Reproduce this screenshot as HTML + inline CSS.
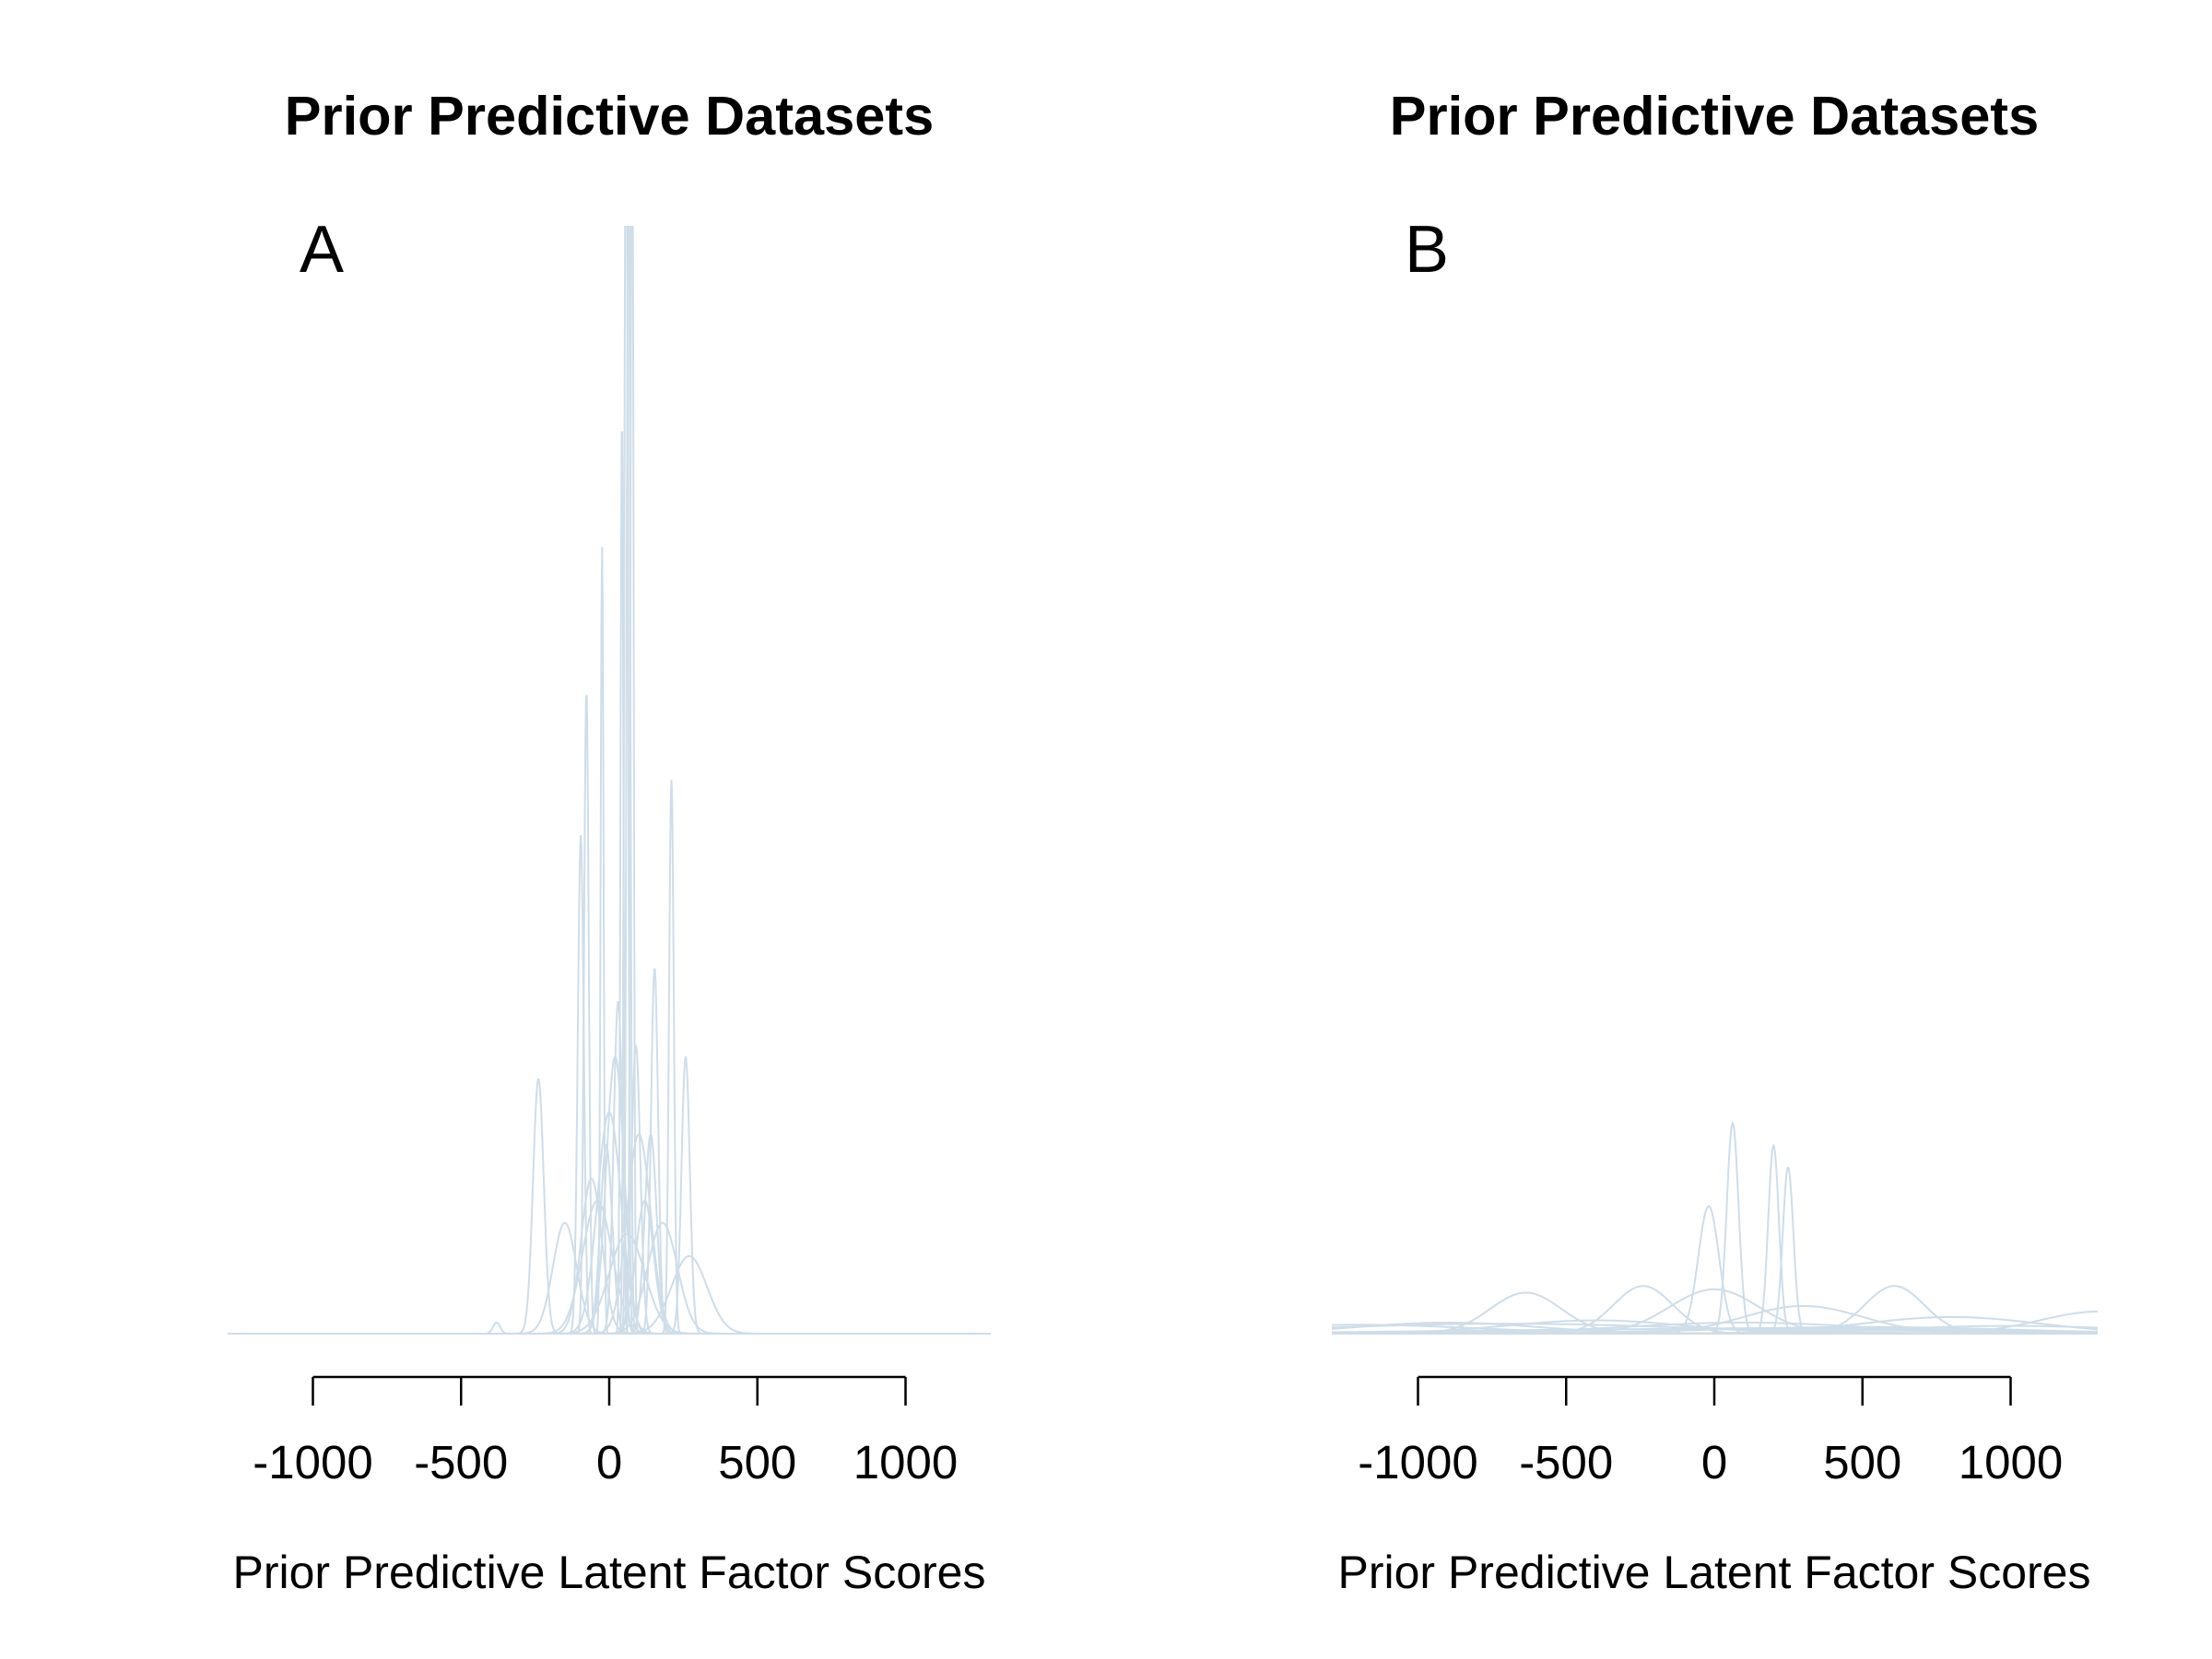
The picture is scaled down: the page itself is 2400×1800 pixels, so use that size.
<!DOCTYPE html>
<html><head><meta charset="utf-8">
<style>
html,body{margin:0;padding:0;background:#fff;}
svg{display:block;}
text{font-family:"Liberation Sans",Arial,sans-serif;fill:#000;}
</style></head>
<body>
<svg id="chart" width="2400" height="1800" viewBox="0 0 2400 1800" xmlns="http://www.w3.org/2000/svg">
<defs>
<clipPath id="clipA"><rect x="247" y="245" width="828" height="1210"/></clipPath>
<clipPath id="clipB"><rect x="1445" y="245" width="831" height="1210"/></clipPath>
</defs>
</svg>
<script>
// Axis ticks (data units)
const tickValues = [-1000, -500, 0, 500, 1000];
const tickLabels = ["-1000", "-500", "0", "500", "1000"];
// Panel A density curves: centers, spreads, peak heights (relative)
const curveCentersA = [57, 77, 65, 43, -24, -77, -96, 210, 153, 258, -239, 20, 0, -60, 100, 180, 270, -150, -380, 30, -10, 120, 60, -40, 90, 140];
const curveSpreadsA = [6, 5, 6, 5, 5, 8, 10, 8, 12, 14, 18, 30, 40, 35, 40, 50, 60, 40, 12, 15, 20, 30, 60, 50, 15, 20];
const curvePeaksA   = [1.2, 1.2, 1.1, 0.83, 0.71, 0.58, 0.45, 0.5, 0.33, 0.25, 0.23, 0.25, 0.2, 0.14, 0.18, 0.1, 0.07, 0.1, 0.01, 0.3, 0.17, 0.12, 0.09, 0.12, 0.26, 0.18];
// Panel B density curves
const curveCentersB = [62, 200, 249, -19, -636, -240, 608, 0, 300, -900, 1300, 100, -400, 800, -1200, 500, -700, 1000, 200, -100];
const curveSpreadsB = [20, 18, 18, 35, 120, 100, 100, 150, 200, 300, 200, 400, 300, 300, 400, 500, 600, 400, 700, 800];
const curvePeaksB   = [0.19, 0.17, 0.15, 0.115, 0.037, 0.043, 0.043, 0.04, 0.025, 0.01, 0.02, 0.01, 0.012, 0.015, 0.008, 0.006, 0.009, 0.007, 0.005, 0.004];

const NS = "http://www.w3.org/2000/svg";
const svg = document.getElementById("chart");
const baseY = 1447, unitH = 1202, pxPer = 0.3215;

function mk(tag, attrs, parent){
  const e = document.createElementNS(NS, tag);
  for (const k in attrs) e.setAttribute(k, attrs[k]);
  (parent || svg).appendChild(e);
  return e;
}

function panel(cx, letter, centers, spreads, peaks, clipId, key){
  const xs = v => cx + v * pxPer;
  const ys = h => baseY - h * unitH;
  const g = mk("g", {"clip-path": "url(#" + clipId + ")"});
  
  
  for (let i = 0; i < centers.length; i++){
    let d = "";
    for (let v = -1320; v <= 1320; v += 2){
      const h = peaks[i] * Math.exp(-0.5 * Math.pow((v - centers[i]) / spreads[i], 2));
      d += (v === -1320 ? "M" : "L") + xs(v).toFixed(1) + "," + ys(h).toFixed(1);
    }
    const p = mk("path", {d: d, fill: "none", stroke: "#cfdde8", "stroke-width": 2}, g);
    
    
  }
  const ax = mk("g", {});
  
  
  mk("line", {x1: xs(tickValues[0]), x2: xs(tickValues[tickValues.length - 1]), y1: 1494, y2: 1494, stroke: "#000", "stroke-width": 2.5}, ax);
  tickValues.forEach((t, i) => {
    mk("line", {x1: xs(t), x2: xs(t), y1: 1494, y2: 1525, stroke: "#000", "stroke-width": 2.5}, ax);
    const tx = mk("text", {x: xs(t), y: 1604, "text-anchor": "middle", "font-size": 51}, ax);
    tx.textContent = tickLabels[i];
    
    
  });
  const xt = mk("text", {x: cx, y: 1723, "text-anchor": "middle", "font-size": 50});
  xt.textContent = "Prior Predictive Latent Factor Scores";
  
  
  const tt = mk("text", {x: cx, y: 146, "text-anchor": "middle", "font-size": 59.5, "font-weight": "bold"});
  tt.textContent = "Prior Predictive Datasets";
  
  
  const lt = mk("text", {x: cx - 312, y: 295, "text-anchor": "middle", "font-size": 72});
  lt.textContent = letter;
  
  
}

panel(661, "A", curveCentersA, curveSpreadsA, curvePeaksA, "clipA", "a");
panel(1860, "B", curveCentersB, curveSpreadsB, curvePeaksB, "clipB", "b");
</script>
</body></html>
